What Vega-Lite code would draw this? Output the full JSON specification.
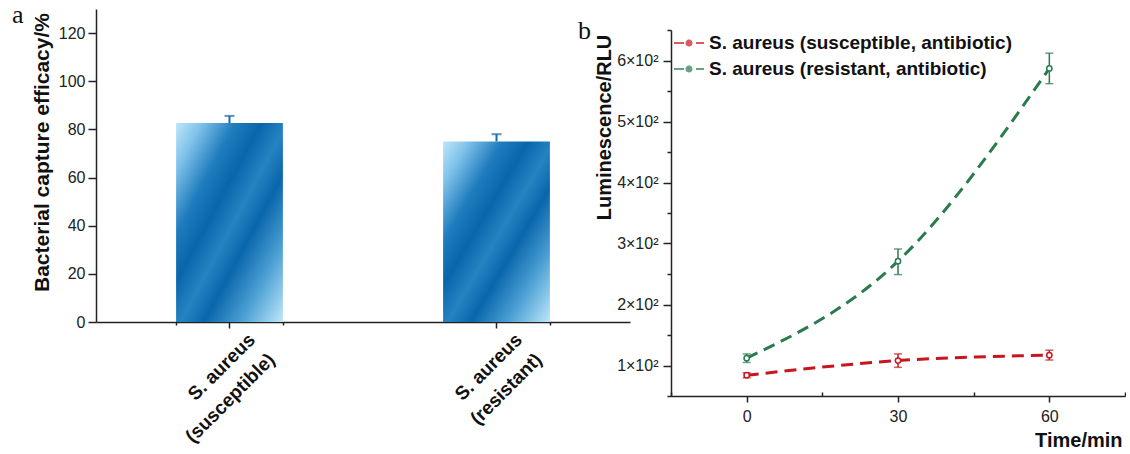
{
  "$schema": "https://vega.github.io/schema/vega-lite/v6.json",
  "padding": {"left": 12, "top": 2, "right": 0, "bottom": 0},
  "autosize": {"type": "pad"},
  "background": "white",
  "config": {
    "font": "Liberation Sans",
    "view": {"stroke": null},
    "axis": {
      "domainColor": "#222", "tickColor": "#222", "labelColor": "#222", "titleColor": "#111",
      "domainWidth": 1.5, "tickWidth": 1.5, "grid": false,
      "labelFontSize": 16, "titleFontSize": 20, "titleFontWeight": "bold", "labelFont": "Liberation Sans", "titleFont": "Liberation Sans"
    }
  },
  "bounds": "flush",
  "spacing": 41,
  "resolve": {"scale": {"color": "independent"}, "legend": {"color": "independent"}},
  "hconcat": [
    {
      "width": 534,
      "height": 313,
      "title": {"text": "a", "anchor": "start", "orient": "top", "frame": "group", "font": "Liberation Serif", "fontSize": 26, "fontWeight": "normal", "color": "#111", "baseline": "alphabetic", "offset": 0, "dx": -84, "dy": 40},
      "data": {"values": [
        {"strain": "S. aureus|(susceptible)", "efficacy": 82.6, "upper": 85.6},
        {"strain": "S. aureus|(resistant)", "efficacy": 75.0, "upper": 78.0}
      ]},
      "layer": [
        {
          "mark": {"type": "bar", "color": {"gradient": "linear", "x1": 0, "y1": 0, "x2": 1, "y2": 1, "stops": [
            {"offset": 0, "color": "#bfe6fa"},
            {"offset": 0.12, "color": "#7fc2ea"},
            {"offset": 0.28, "color": "#1e7bbd"},
            {"offset": 0.4, "color": "#0a66ab"},
            {"offset": 0.52, "color": "#2683c2"},
            {"offset": 0.63, "color": "#0a66ab"},
            {"offset": 0.8, "color": "#4a9fd3"},
            {"offset": 1, "color": "#bfe6fa"}
          ]}},
          "encoding": {
            "x": {"field": "strain", "type": "nominal", "sort": null,
              "scale": {"paddingInner": 0.6, "paddingOuter": 0.3},
              "axis": {"orient": "bottom", "title": null, "labelExpr": "split(datum.label, '|')", "labelAngle": -45, "labelAlign": "right", "labelBaseline": "top", "labelPadding": 2, "labelOffset": 16, "labelFontSize": 19, "labelFontWeight": "bold", "labelColor": "#111", "labelLineHeight": 28, "tickSize": 6, "domain": true}},
            "y": {"field": "efficacy", "type": "quantitative",
              "scale": {"domain": [0, 130], "nice": false},
              "axis": {"title": "Bacterial capture efficacy/%", "values": [0, 10, 20, 30, 40, 50, 60, 70, 80, 90, 100, 110, 120],
                "labelExpr": "datum.value % 20 === 0 ? datum.label : ''",
                "labelOverlap": false,
                "tickSize": {"condition": {"test": "datum.value % 20 !== 0", "value": 4}, "value": 8},
                "labelPadding": 3, "titleFontSize": 21, "titleX": -54, "titleY": 143, "titleAlign": "center", "titleBaseline": "middle", "titleAngle": -90}}
          }
        },
        {
          "mark": {"type": "rule", "color": "#1769ac", "strokeWidth": 2},
          "encoding": {
            "x": {"field": "strain", "type": "nominal", "sort": null,
              "axis": {"orient": "bottom", "title": null, "labels": false, "domain": false, "tickBand": "extent", "tickSize": 3}},
            "y": {"field": "efficacy", "type": "quantitative"},
            "y2": {"field": "upper"}
          }
        },
        {
          "mark": {"type": "tick", "orient": "horizontal", "color": "#1769ac", "size": 10, "thickness": 2},
          "encoding": {
            "x": {"field": "strain", "type": "nominal", "sort": null, "axis": null},
            "y": {"field": "upper", "type": "quantitative"}
          }
        }
      ],
      "resolve": {"axis": {"x": "independent"}}
    },
    {
      "bounds": "flush",
      "spacing": 0,
      "resolve": {"scale": {"color": "independent"}, "legend": {"color": "independent"}},
      "vconcat": [
        {
          "width": 454,
          "height": 21,
          "data": {"values": []},
          "mark": "point"
        },
        {
          "width": 454,
          "height": 366,
          "title": {"text": "b", "anchor": "start", "orient": "top", "frame": "group", "font": "Liberation Serif", "fontSize": 26, "fontWeight": "normal", "color": "#111", "baseline": "alphabetic", "offset": 0, "dx": -93, "dy": 36},
          "data": {"values": [
            {"t": 0, "series": "S. aureus (susceptible, antibiotic)", "v": 84, "lo": 80, "hi": 88},
            {"t": 30, "series": "S. aureus (susceptible, antibiotic)", "v": 108, "lo": 97, "hi": 119},
            {"t": 60, "series": "S. aureus (susceptible, antibiotic)", "v": 117, "lo": 109, "hi": 125},
            {"t": 0, "series": "S. aureus (resistant, antibiotic)", "v": 112, "lo": 105, "hi": 119},
            {"t": 30, "series": "S. aureus (resistant, antibiotic)", "v": 271, "lo": 249, "hi": 291},
            {"t": 60, "series": "S. aureus (resistant, antibiotic)", "v": 587, "lo": 562, "hi": 612}
          ]},
          "resolve": {"axis": {"y": "independent"}},
          "layer": [
            {
              "mark": {"type": "line", "strokeWidth": 3, "strokeDash": [12, 7], "interpolate": "monotone"},
              "encoding": {
                "x": {"field": "t", "type": "quantitative",
                  "scale": {"domain": [-15, 75], "nice": false, "zero": false},
                  "axis": {"title": "Time/min", "values": [-15, 0, 15, 30, 45, 60, 75],
                    "labelExpr": "datum.value % 30 === 0 ? datum.label : ''",
                    "labelOverlap": false,
                    "tickSize": {"condition": {"test": "datum.value % 30 !== 0", "value": -4}, "value": 6},
                    "labelPadding": 6, "titleFontSize": 20, "titleAnchor": "end", "titleAlign": "right", "titleX": 451, "titleY": 44, "titleBaseline": "middle"}},
                "y": {"field": "v", "type": "quantitative",
                  "scale": {"domain": [50, 650], "nice": false, "zero": false},
                  "axis": {"orient": "left", "title": "Luminescence/RLU", "values": [100, 200, 300, 400, 500, 600],
                    "labelExpr": "(datum.value / 100) + '\u00d710\u00b2'",
                    "labelOverlap": false, "tickSize": 8,
                    "labelPadding": 5, "titleFontSize": 20, "titleX": -67, "titleY": 97, "titleAlign": "center", "titleBaseline": "middle", "titleAngle": -90}},
                "color": {"field": "series", "type": "nominal",
                  "scale": {"domain": ["S. aureus (susceptible, antibiotic)", "S. aureus (resistant, antibiotic)"], "range": ["#c8161e", "#2a7b4f"]},
                  "legend": {"title": null, "orient": "none", "legendX": 7, "legendY": 2, "padding": 0,
                    "symbolType": "M-1.5,0L-0.5,0M0.7,0L1.5,0M0.25,0A0.25,0.25,0,1,1,-0.25,0A0.25,0.25,0,1,1,0.25,0",
                    "symbolSize": 400, "symbolStrokeWidth": 2, "symbolDash": [1, 0], "symbolFillColor": "white",
                    "labelFontSize": 19, "labelFontWeight": "bold", "labelColor": "#111", "labelOffset": 9, "rowPadding": 5, "labelLimit": 500}}
              }
            },
            {
              "mark": {"type": "rule", "strokeWidth": 1.5},
              "encoding": {
                "x": {"field": "t", "type": "quantitative"},
                "y": {"field": "lo", "type": "quantitative",
                  "axis": {"orient": "left", "title": null, "values": [50, 150, 250, 350, 450, 550, 650], "labels": false, "domain": false, "tickSize": 4}},
                "y2": {"field": "hi"},
                "color": {"field": "series", "type": "nominal"}
              }
            },
            {
              "mark": {"type": "tick", "orient": "horizontal", "size": 8, "thickness": 1.5},
              "encoding": {
                "x": {"field": "t", "type": "quantitative"},
                "y": {"field": "lo", "type": "quantitative", "axis": null},
                "color": {"field": "series", "type": "nominal"}
              }
            },
            {
              "mark": {"type": "tick", "orient": "horizontal", "size": 8, "thickness": 1.5},
              "encoding": {
                "x": {"field": "t", "type": "quantitative"},
                "y": {"field": "hi", "type": "quantitative", "axis": null},
                "color": {"field": "series", "type": "nominal"}
              }
            },
            {
              "mark": {"type": "point", "filled": false, "fill": "white", "size": 28, "strokeWidth": 1.5, "opacity": 1},
              "encoding": {
                "x": {"field": "t", "type": "quantitative"},
                "y": {"field": "v", "type": "quantitative", "axis": null},
                "color": {"field": "series", "type": "nominal"}
              }
            }
          ]
        }
      ]
    }
  ]
}
